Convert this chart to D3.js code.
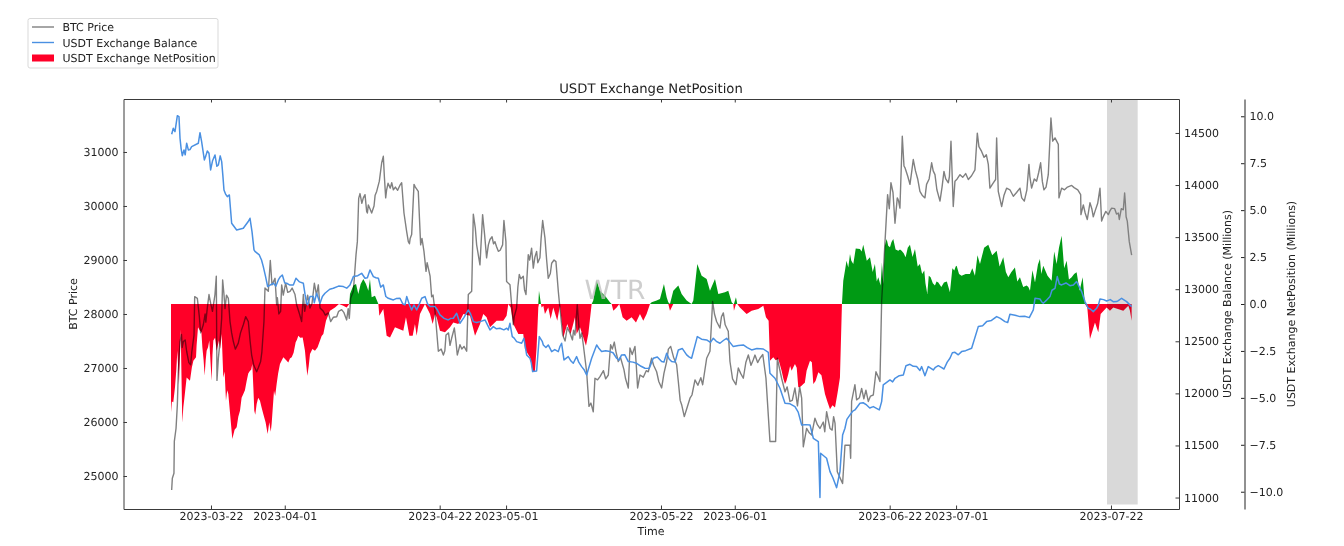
<!DOCTYPE html>
<html><head><meta charset="utf-8">
<script src="https://cdn.jsdelivr.net/npm/d3@7"></script>
<style>html,body{margin:0;padding:0;background:#fff}svg{display:block;font-family:"DejaVu Sans",sans-serif;text-rendering:geometricPrecision}</style>
</head><body><svg id="c" width="1344" height="546"></svg>
<script>
const startDate = "2023-03-16";
const xTicks = ["2023-03-22","2023-04-01","2023-04-22","2023-05-01","2023-05-22","2023-06-01","2023-06-22","2023-07-01","2023-07-22"];
const priceTicks = [25000,26000,27000,28000,29000,30000,31000];
const balanceTicks = [11000,11500,12000,12500,13000,13500,14000,14500];
const netTicks = [-10,-7.5,-5,-2.5,0,2.5,5,7.5,10];
const spanDays = [127.46,131.62];

const priceDay = [.67,.76,.98,1.03,1.26,1.44,1.57,1.8,2.25,2.7,3.24,3.7,3.79,4.15,4.42,4.96,5.5,5.73,5.95,6.54,6.72,6.81,7,7.22,7.45,7.58,7.76,8.35,8.58,9.03,9.7,10.38,11.06,11.51,12.19,12.73,13.18,13.32,13.77,14.04,14.27,14.68,14.9,15.44,15.58,16.12,16.71,17.39,17.61,18.29,18.52,18.88,19.42,20.01,20.55,20.78,21.23,21.91,22.22,23.04,23.71,24.39,24.75,24.93,25.3,25.66,25.84,26.02,26.88,27.1,27.33,27.78,28.46,28.82,29.14,29.36,29.68,29.81,30.72,31.85,32.16,32.52,32.75,33.2,33.52,34.1,34.42,34.87,35.15,35.46,35.91,36.37,36.82,37.5,37.86,38.62,38.99,39.39,39.75,40.66,40.88,41.34,41.56,41.83,42.01,42.46,42.82,43.09,43.36,43.82,44.49,44.95,45.53,45.71,45.98,46.07,46.53,46.75,46.98,47.43,47.79,48.33,48.7,49.01,49.46,49.69,50.14,50.59,50.96,51.27,51.72,52.18,52.76,53.08,53.3,53.67,54.66,55.34,55.65,56.02,56.47,56.92,57.24,57.82,58.05,58.73,59.86,60.17,60.67,61.21,61.98,62.57,62.79,63.47,63.83,64.15,65.28,65.73,66.41,67.09,67.77,68.31,69.12,69.35,69.8,70.16,70.93,71.61,72.65,73.19,73.64,74,74.54,74.99,75.45,76.12,76.35,77.16,77.48,78.16,78.84,79.74,80.42,81.23,81.77,82.54,82.77,83.35,83.81,84.48,85.16,86.07,86.29,86.74,87.42,87.87,88.55,89.45,89.91,90.59,90.9,91.49,91.62,91.94,92.62,92.71,92.84,93.29,93.52,94.78,95.1,95.78,96.14,96.68,96.91,97.22,97.72,98.17,98.72,99.03,99.39,99.71,99.94,100.75,101.2,102.1,102.78,103.69,104.14,104.82,105.36,105.95,106.31,106.62,106.85,107.53,108.66,109.56,109.88,110.46,111.37,111.59,112.36,112.5,112.72,113.18,113.85,114.76,115.66,116.25,116.88,117.24,117.92,118.46,118.91,119.5,119.86,120.41,120.86,120.95,121.31,122.67,123.89,123.93,124.25,124.79,125.15,125.83,126.51,126.73,127.64,128.09,128.99,129.13,129.67,129.85,130.21,130.48,130.8];
const priceVal = [24740,24960,25050,25640,25880,26320,26930,27490,27490,27310,27060,27610,28320,28290,27950,27800,28110,28360,28200,28360,28700,26770,27180,27490,27920,28630,28360,28290,27860,27490,27460,27800,27860,27240,26930,27120,27860,28480,28420,28990,28540,28660,28170,28050,28540,28570,28420,28360,28170,27860,28360,28170,28110,28570,28540,28110,28050,28020,27860,27950,28080,27890,27920,28290,28420,29100,29340,30140,30210,29900,30020,29870,30270,30460,30800,30920,30150,30300,30300,30430,29870,29530,29340,29470,30400,30270,29280,29160,28790,28850,28320,28050,27310,27240,27610,27550,27740,27240,27430,27310,28360,28420,29850,29590,29280,28910,29840,29470,29040,29380,29340,29160,29280,29730,29340,28600,28540,28170,27800,28110,28730,28700,28360,29100,29220,28850,29160,29040,29730,29410,28660,28940,28970,28420,28110,27610,27650,27610,28170,27550,27430,26930,26290,26190,26810,26840,26870,27430,27480,27120,26970,26630,27370,27400,26630,26870,26930,27180,26930,26630,27120,27400,27060,26750,26320,26100,26440,26780,26690,27180,27310,28230,27860,27740,28020,27680,27120,26690,27000,26810,27240,27240,27180,26810,25640,25640,27180,26810,26560,26380,26630,26440,25540,25880,25760,26070,25880,26190,25880,25980,25080,24900,24860,25570,25570,25330,26380,26690,26410,26590,26380,26500,26930,26750,28230,28970,30210,30430,29680,30150,29960,31290,30740,30400,30860,30270,30150,30800,30580,30090,30640,30430,31200,29990,30460,30580,30490,30670,31350,31010,30770,30330,30490,31260,30270,29990,30330,30180,30330,30090,30770,30330,30460,30800,30300,30580,31630,31260,31140,30150,30330,30380,30210,29840,30020,29750,30060,29900,30330,29720,29840,29960,29870,29750,29930,30240,29720,29340,29090];
const priceExtra = [[2,27620],[2.1,27380],[2.5,27520],[3,27100],[3.4,27300],[4.6,27650],[5.2,28000],[5.3,27850],[6.2,28050],[7.9,28100],[8.1,28350],[8.8,27650],[9.3,27350],[10,27650],[10.7,27950],[11.3,27500],[11.8,27050],[12.4,27000],[12.9,27300],[15,28300],[15.2,28000],[15.8,28350],[16.4,28400],[17,28480],[18,28000],[18.7,28050],[19.1,28350],[19.7,28200],[20.3,28350],[21.5,27980],[22.6,27940],[23.3,28050],[24,28030],[24.6,28100],[26.2,30230],[26.45,30050],[26.65,30150],[27.2,29870],[27.55,29950],[28.1,30000],[28.25,30200],[29.5,30550],[30,30420],[30.3,30330],[30.5,30430],[31,30350],[31.3,30290],[31.6,30380],[32.9,29300],[33,29400],[33.7,30350],[34.25,29800],[34.6,29400],[35.3,28950],[35.7,28700],[36.1,28350],[37.2,27350],[37.7,27320],[38.2,27650],[38.4,27420],[39.2,27500],[39.6,27350],[40,27350],[40.3,27400],[43.6,29280],[44.1,29430],[44.3,29300],[44.7,29250],[45.2,29180],[47.1,27950],[47.6,28500],[48,28650],[48.5,28450],[49.2,29000],[49.9,29050],[50.3,28950],[50.75,29400],[51.5,29000],[52,28750],[52.5,29000],[54,27500],[54.3,27750],[55,27520],[55.15,27700],[55.85,27800],[56.25,27650],[57.5,26350],[58.4,26780],[59.2,26950],[59.5,26800],[60.4,27350],[60.9,27300],[61.5,27200],[62.2,26800],[63.1,27250],[63.65,27050],[64.6,26830],[65,26950],[66,27050],[66.7,26750],[67.4,26900],[68,27350],[68.7,27200],[69.6,26400],[70.5,26250],[71.2,26500],[72,26680],[72.4,26820],[74.25,28000],[75.2,27950],[75.7,27800],[76.7,26800],[77.8,26900],[78.5,27100],[79.2,27050],[79.5,27150],[80.1,27100],[80.8,27250],[84.1,26650],[84.8,26400],[85.5,26300],[85.8,26650],[87.1,25800],[88.2,25950],[89,26000],[89.2,25820],[90.2,25850],[90.4,26100],[93.9,26450],[94.2,26620],[94.5,26430],[95.4,26480],[96.4,26850],[97.95,29950],[98.45,30250],[99.2,30100],[100.1,30700],[100.45,30550],[100.95,30600],[101.5,30650],[101.8,30500],[102.4,30200],[103,30400],[103.35,30500],[103.9,30650],[104.4,30300],[105.1,30350],[105.6,30500],[106.1,30550],[107.15,30500],[107.9,30530],[108.3,30600],[109.1,30560],[110.1,31100],[110.8,30900],[111.1,30950],[112,30420],[113.5,30200],[114.3,30300],[115.2,30250],[115.9,30150],[116.6,30300],[117,30550],[117.6,30500],[118.2,30620],[118.7,30450],[119.2,30350],[120.1,31200],[121.7,30300],[122.1,30350],[123,30340],[123.5,30300],[124.5,29870],[125.4,29950],[125.6,29800],[126.2,30050],[126.95,29800],[127.3,29900],[127.9,29920],[128.5,29950],[128.75,29850],[129.4,29950],[129.95,30050],[130.05,29800]];

const balanceDay = [.67,.89,1.12,1.44,1.66,1.8,2.11,2.34,2.7,2.93,3.38,4.28,4.51,4.73,5.1,5.5,5.73,5.95,6.54,7,7.45,7.76,8.21,8.49,8.8,9.48,10.38,11.29,11.56,11.83,12.55,13.09,13.68,14.45,15.13,15.67,16.26,17.16,17.52,18.52,18.97,19.42,19.87,20.32,20.78,21.45,22.58,23.94,24.84,25.3,26.42,26.88,27.55,28.01,28.69,29.36,30.04,30.72,31.62,32.3,32.53,33.2,33.52,33.88,34.56,35.01,35.69,36.37,37.04,38.17,38.85,39.3,39.75,40.88,41.56,42.47,43.14,43.82,44.27,45.17,46.3,46.53,46.84,47.43,48.11,48.42,48.79,49.24,49.6,50.14,50.5,51.05,51.72,52.18,53.08,53.53,53.85,54.43,55.11,55.56,56.24,56.92,57.6,58.28,58.95,60.08,60.99,61.66,62.57,63.7,64.83,65.96,67.09,67.77,68.44,69.35,70.48,71.15,71.92,73.19,74.09,74.99,75.9,76.8,78.16,79.29,80.87,81.55,81.77,82.45,83.13,83.81,85.16,86.07,87.2,87.65,88.33,88.55,88.64,89.45,89.91,90.81,91.26,91.62,91.94,92.62,93.29,93.97,94.87,95.78,96.59,96.91,97.13,98.04,98.72,99.85,100.21,100.75,101.65,102.33,102.78,103.23,103.91,104.59,105.36,106.17,106.85,107.75,109.11,110.01,111.14,112.5,113.63,114.3,115.66,116.93,117.47,117.7,118.37,118.82,119.73,120.41,120.72,121.31,122.44,123.34,124.02,124.47,124.92,125.6,126.05,126.51,127.41,128.77,129.44,130.12,130.8];
const balanceVal = [14487,14545,14513,14666,14657,14449,14282,14337,14401,14337,14369,14401,14503,14417,14241,14327,14305,14145,14289,14193,14225,13953,13889,13905,13633,13569,13585,13681,13553,13377,13329,13217,13025,13057,13089,13137,13057,13041,13105,13057,12865,12929,12929,12961,12865,12961,13009,13025,13041,13121,13153,13105,13185,13121,13105,13041,12913,12897,12913,12849,12929,12801,12849,12801,12913,12929,12833,12833,12753,12705,12721,12769,12673,12801,12689,12689,12705,12609,12641,12625,12609,12673,12545,12497,12481,12529,12369,12337,12209,12215,12545,12465,12465,12401,12401,12481,12321,12353,12289,12353,12257,12177,12337,12465,12401,12401,12337,12369,12305,12289,12241,12337,12305,12385,12305,12417,12369,12337,12545,12513,12529,12481,12529,12449,12465,12417,12426,12394,12193,12145,12049,11905,11873,11697,11697,11569,11537,11000,11425,11377,11249,11095,11249,11601,11665,11793,11841,11905,11889,11873,11841,11921,12081,12129,12145,12177,12266,12279,12257,12257,12170,12257,12225,12266,12234,12337,12394,12401,12433,12641,12689,12737,12689,12759,12737,12727,12801,12913,12906,12865,12929,13009,13121,13041,13034,13073,12977,12881,12817,12785,12817,12906,12887,12881,12913,12881,12833];
const balanceExtra = [[1.95,14350],[2.5,14290],[3.15,14340],[5.3,14280],[6.2,14230],[6.8,14180],[7.25,14280],[7.6,14100],[8,13910],[11.05,13650],[12,13360],[12.85,13280],[13.4,13120],[14,13040],[14.8,13030],[15.4,13120],[16,13060],[16.7,13040],[18,13070],[18.75,12950],[19.1,12850],[20,12870],[21.1,12930],[22.1,13000],[23.3,13030],[24.4,13010],[25.9,13130],[27.2,13110],[28.35,13110],[29,13020],[29.7,12930],[31.1,12910],[32,12860],[32.9,12850],[34.2,12850],[35.35,12860],[36.7,12800],[37.6,12720],[38.5,12720],[40.3,12730],[41.2,12760],[42,12680],[44.7,12620],[45.7,12610],[46.1,12625],[47.1,12530],[49.4,12300],[50.9,12500],[51.4,12440],[52.6,12420],[53.3,12450],[54.8,12310],[55.85,12300],[56.55,12230],[58.6,12430],[59.5,12410],[60.5,12390],[61.3,12320],[62.1,12370],[63.2,12300],[64.3,12260],[65.4,12240],[66.5,12350],[67.4,12300],[68.1,12330],[68.9,12300],[69.9,12430],[70.8,12350],[72.5,12520],[73.7,12490],[74.5,12500],[75.5,12510],[77.5,12460],[78.7,12440],[80,12430],[84.5,11900],[85.6,11820],[86.6,11700],[90.3,11190],[92.2,11750],[93,11830],[94.4,11910],[95.3,11860],[97.5,12100],[98.4,12110],[99.3,12170],[101.2,12260],[102.1,12220],[104.2,12250],[105,12250],[105.8,12300],[106.5,12390],[107.3,12370],[108.3,12410],[110.6,12650],[111.8,12700],[113,12720],[114,12680],[115,12750],[116.3,12740],[118.6,12880],[119.2,12890],[120,12990],[121,13050],[121.9,13060],[122.9,13040],[125.2,12810],[126.3,12850],[127,12900],[127.9,12900],[128.3,12880],[129,12890]];

const netDay = [.58,.89,1.12,1.44,1.66,1.89,2.11,2.38,2.7,3.15,3.61,3.97,4.24,4.51,4.83,5.14,5.41,5.77,6.09,6.32,6.77,7.08,7.45,7.67,8.03,8.35,8.89,9.48,9.93,10.38,10.84,11.29,11.6,11.87,12.19,12.64,13.09,13.68,14.22,14.54,14.9,15.35,15.81,16.48,16.94,17.48,17.84,18.43,18.74,19.06,19.42,20.1,20.78,21.23,21.59,22.13,22.81,23.35,23.94,24.39,24.75,24.84,25.3,25.66,25.97,26.29,26.65,27.01,27.33,27.55,27.78,28.23,28.69,28.82,29.36,29.81,30.27,30.94,32.07,32.43,32.89,33.34,33.65,33.88,34.33,35.01,35.69,36.05,36.37,36.59,37.04,37.72,38.4,38.85,39.53,40.21,41.11,41.79,42.47,42.91,43.36,43.82,44.72,45.62,46.07,46.3,46.62,46.98,47.66,48.33,48.56,49.24,49.6,49.92,50.14,50.37,50.46,50.73,50.82,51.05,51.27,51.72,52.04,52.4,52.94,53.3,53.58,53.76,54.3,54.75,55.34,55.56,56.02,56.83,57.15,57.6,57.82,58.28,58.73,59.41,60.08,60.31,60.54,60.99,61.35,61.8,62.34,63.02,63.61,64.15,64.6,65.05,65.51,65.73,66.41,66.86,67.4,67.77,67.99,68.22,68.67,69.35,69.8,70.48,71.15,71.38,71.92,72.51,73.19,73.64,74.32,74.77,75.67,76.12,76.58,76.8,76.89,77.16,77.34,77.7,78.61,79.29,80.19,80.87,81.23,81.59,81.77,82.22,82.9,83.35,83.81,84.26,84.71,85.16,85.61,86.29,86.74,87.2,87.65,88.33,89.23,89.91,90.59,91.26,91.53,91.71,91.94,92.39,92.62,93.07,93.97,94.42,95.33,96,96.46,96.77,97.13,97.59,98.04,98.49,99.17,99.62,100.16,100.75,101.43,102.1,102.69,103.1,103.55,104.14,104.59,105.36,106.17,106.76,107.08,107.75,108.88,109.56,110.24,111.37,112.5,113.4,114.08,114.98,115.66,116.57,117.02,117.7,118.37,118.82,119.95,120.63,121.31,121.99,122.67,123.34,124.16,124.47,124.79,125.15,125.83,126.28,126.6,127.41,127.86,128.31,129.67,130.35,130.57,130.8];
const netVal = [-5.77,-5.24,-4.44,-2.49,-4.26,-1.35,-6.31,-5.06,-3.91,-4.09,-3.02,-2.84,-1.24,-1.42,-2.31,-3.82,-2.49,-1.95,-4.09,-1.95,-2.49,-1.95,-1.6,-3.91,-5.15,-4.8,-7.19,-6.57,-5.68,-4.8,-4.09,-3.55,-3.2,-5.68,-5.33,-5.15,-5.86,-6.93,-6.39,-4.62,-4.26,-3.2,-2.84,-3.11,-2.84,-2.04,-1.69,-1.78,-2.49,-3.82,-2.66,-2.49,-1.95,-1.6,-.89,-.36,-.18,0,-.09,-.18,0,.53,.98,1.07,.53,1.07,1.33,1.07,.71,1.33,.36,.44,0,-.62,-.27,-1.69,-1.78,-1.24,-1.42,-.71,-1.69,-1.69,-1.07,-1.69,-.53,0,-.53,-1.07,-.53,-.71,-1.42,-1.51,-1.24,-.98,-1.07,-.53,-.62,-1.69,-1.07,-.53,-.71,-1.24,-.89,-.89,-.62,0,-.18,-1.07,-1.6,-1.6,-2.4,-2.84,-3.64,-3.55,-2.31,-.18,.71,0,-.18,-.09,-.53,-.18,-.8,-.18,-.89,-.09,-1.07,-1.78,-1.07,-1.6,-.71,-1.6,-1.24,-2.22,-1.6,0,.18,1.24,.71,.44,.09,0,-.36,-.18,0,-.71,-.89,-.71,-.98,-.53,-.89,-.53,0,.09,.18,.27,1.07,.36,.09,-.36,.71,.98,.53,.18,0,.18,2.13,1.51,1.33,.71,1.33,.53,.62,.71,.09,0,-.36,.36,0,-.18,-.53,-.36,-.27,-.09,-.71,-.89,-3.02,-2.84,-2.93,-3.55,-4.26,-3.73,-3.55,-3.2,-4.44,-4.26,-3.55,-3.02,-4.26,-3.64,-4.8,-5.6,-5.51,-3.91,0,1.24,1.78,1.95,2.66,2.13,2.93,3.16,2.49,2.13,1.42,.98,1.07,3.46,3.02,3.46,2.84,2.84,2.49,3.16,2.93,2.13,1.78,.53,1.42,.98,1.15,1.15,.62,1.78,2.04,1.51,1.6,1.51,2.13,3.16,2.84,2.49,1.42,1.95,1.42,.98,.71,1.15,2.4,2.04,1.24,2.13,3.64,2.31,1.42,1.69,1.42,0,-.18,-1.87,-.98,-1.51,-.53,-.18,-.36,-.18,-.36,-.09,-.36,-.89,-.36];
const netExtra = [[.7,-5.2],[1.3,-3.5],[2.25,-5.5],[3.4,-3.4],[4.05,-2.2],[4.7,-1.5],[5,-3],[5.28,-3],[5.6,-2.3],[5.95,-3.2],[6.2,-2.7],[6.55,-1.8],[7.25,-2.4],[7.85,-3.6],[8.2,-4.6],[8.6,-5.9],[9.2,-6.7],[9.7,-6],[10.15,-5],[10.6,-4.6],[11.05,-3.7],[11.45,-3.5],[11.75,-4.5],[12,-5.9],[12.4,-5],[12.85,-5.5],[13.4,-6.3],[13.9,-6.3],[14.1,-6.8],[14.4,-5.4],[14.7,-4.9],[15.1,-3.7],[15.6,-3],[16.2,-3],[16.7,-2.9],[17.2,-2.6],[17.65,-1.9],[18.1,-1.8],[18.9,-3.2],[19.25,-3.3],[19.75,-2.4],[20.45,-2.3],[21,-1.7],[82.55,-3],[83.1,-3.2],[83.6,-4],[84,-4.1],[84.5,-3.3],[84.9,-3.4],[85.4,-3.4],[85.95,-4.4],[86.5,-4.2],[87.45,-3.1],[87.95,-4.1],[88.75,-3.8],[89.55,-5.2],[90.25,-5.4],[90.95,-4.7],[92.15,2.3],[92.8,2.3],[93.4,2.95],[94.2,2.8],[94.9,2.3],[95.7,1.7],[96.25,1.2],[96.95,2.2],[97.35,3.1],[97.8,3.1],[98.25,3.3],[98.8,2.9],[99.4,2.9],[99.9,2.7],[100.45,3],[101.1,2.5],[101.8,2],[102.4,1.6],[102.85,1.1],[103.3,1.5],[103.85,1.1],[104.35,1.2],[105,.9],[105.75,1.2],[106.5,1.9],[106.95,2],[107.4,1.6],[108.3,1.6],[109.2,1.9],[109.9,2.6],[110.8,3],[111.9,2.6],[112.9,2],[113.75,1.7],[114.5,1.7],[115.3,1.2],[116.1,.9],[116.8,.9],[117.35,1.8],[118.1,2.1],[118.55,1.6],[119.4,1.5],[120.3,2.8],[120.95,3],[121.65,1.9],[122.3,1.3],[123,1.6],[123.75,.7]];

const W=1344,H=546,L=123.5,R=1179,T=99,B=509;
const t0=new Date(startDate+"T00:00:00Z").getTime();
const toDate=d=>new Date(t0+d*864e5);
const x=d3.scaleUtc().domain([toDate(-5.86),toDate(137.22)]).range([L,R]);
const yP=d3.scaleLinear().domain([24389,31981]).range([B,T]);
const yB=d3.scaleLinear().domain([10890,14826]).range([B,T]);
const yN=d3.scaleLinear().domain([-10.92,10.92]).range([B,T]);
const svg=d3.select("#c");
const FS=11, TXT="#222", SP="#3a3a3a";
const zip=(a,b,extra)=>a.map((d,i)=>({d,v:b[i]})).concat(extra.map(([d,v])=>({d,v}))).sort((p,q)=>d3.ascending(p.d,q.d));

svg.append("rect").attr("x",x(toDate(spanDays[0]))).attr("width",x(toDate(spanDays[1]))-x(toDate(spanDays[0])))
  .attr("y",yN(10.92)).attr("height",yN(-10.68)-yN(10.92)).attr("fill","#d9d9d9");

const lineP=d3.line().x(p=>x(toDate(p.d))).y(p=>yP(p.v));
svg.append("path").attr("d",lineP(zip(priceDay,priceVal,priceExtra))).attr("fill","none").attr("stroke","#808080").attr("stroke-width",1.4).attr("stroke-linejoin","round");

const net=zip(netDay,netVal,netExtra);
const areaOf=f=>d3.area().x(p=>x(toDate(p.d))).y0(yN(0)).y1(p=>yN(f(p.v)));
const nets=svg.append("g").style("mix-blend-mode","multiply");
nets.append("path").attr("d",areaOf(v=>Math.min(v,0))(net)).attr("fill","#ff0028");
nets.append("path").attr("d",areaOf(v=>Math.max(v,0))(net)).attr("fill","#009a14");

const lineB=d3.line().x(p=>x(toDate(p.d))).y(p=>yB(p.v));
svg.append("path").attr("d",lineB(zip(balanceDay,balanceVal,balanceExtra))).attr("fill","none").attr("stroke","#4a90e2").attr("stroke-width",1.5).attr("stroke-linejoin","round");

svg.append("text").text("WTR").attr("x",615).attr("y",299).attr("text-anchor","middle").attr("font-size",26.5).attr("fill","#bdbdbd").attr("fill-opacity",.75);

const styleAxis=(g,col)=>{g.selectAll("path.domain,line").attr("stroke",col);g.selectAll("text").attr("fill",TXT).attr("font-size",FS).attr("font-family","'DejaVu Sans',sans-serif");};
const fmtD=d3.utcFormat("%Y-%m-%d");
const xTickDates=xTicks.map(s=>new Date(s+"T00:00:00Z"));
svg.append("g").attr("transform",`translate(0,${B})`).call(d3.axisBottom(x).tickValues(xTickDates).tickFormat(fmtD).tickSize(-3.5).tickSizeOuter(0).tickPadding(3.5)).call(g=>styleAxis(g,SP));
svg.append("g").attr("transform",`translate(0,${T})`).call(d3.axisTop(x).tickValues(xTickDates).tickFormat("").tickSize(-3.5).tickSizeOuter(0)).call(g=>styleAxis(g,SP));
svg.append("g").attr("transform",`translate(${L},0)`).call(d3.axisLeft(yP).tickValues(priceTicks).tickFormat(d3.format("d")).tickSize(-3.5).tickSizeOuter(0).tickPadding(5)).call(g=>styleAxis(g,SP));
svg.append("g").attr("transform",`translate(${R},0)`).call(d3.axisRight(yB).tickValues(balanceTicks).tickFormat(d3.format("d")).tickSize(-3.5).tickSizeOuter(0).tickPadding(5)).call(g=>styleAxis(g,SP));
svg.append("g").attr("transform","translate(1244.5,0)").call(d3.axisRight(yN).tickValues(netTicks).tickFormat(d=>d3.format(".1f")(d).replace("-","\u2212")).tickSize(-3.5).tickSizeOuter(0).tickPadding(5)).call(g=>styleAxis(g,"#222"));

const label=(s,px,py,rot,fs)=>svg.append("text").text(s).attr("text-anchor","middle").attr("fill",TXT).attr("font-size",fs||FS).attr("transform",`translate(${px},${py})${rot?" rotate(-90)":""}`);
label("USDT Exchange NetPosition",651,93,false,13.2);
label("Time",651,535);
label("BTC Price",77,304,true);
label("USDT Exchange Balance (Millions)",1231,304,true);
label("USDT Exchange NetPosition (Millions)",1295,304,true);

const lg=svg.append("g");
lg.append("rect").attr("x",28).attr("y",18.5).attr("width",190).attr("height",49.5).attr("rx",2).attr("fill","#fff").attr("stroke","#d9d9d9");
const lgRows=[["BTC Price",27,"line","#808080"],["USDT Exchange Balance",42.5,"line","#4a90e2"],["USDT Exchange NetPosition",58,"box","#ff0028"]];
lgRows.forEach(([s,yy,kind,col])=>{
  if(kind==="line") lg.append("line").attr("x1",32).attr("x2",54).attr("y1",yy).attr("y2",yy).attr("stroke",col).attr("stroke-width",1.4);
  else lg.append("rect").attr("x",32).attr("y",yy-3.5).attr("width",22).attr("height",7).attr("fill",col);
  lg.append("text").text(s).attr("x",62.5).attr("y",yy+4).attr("font-size",FS).attr("fill",TXT);
});
</script></body></html>
